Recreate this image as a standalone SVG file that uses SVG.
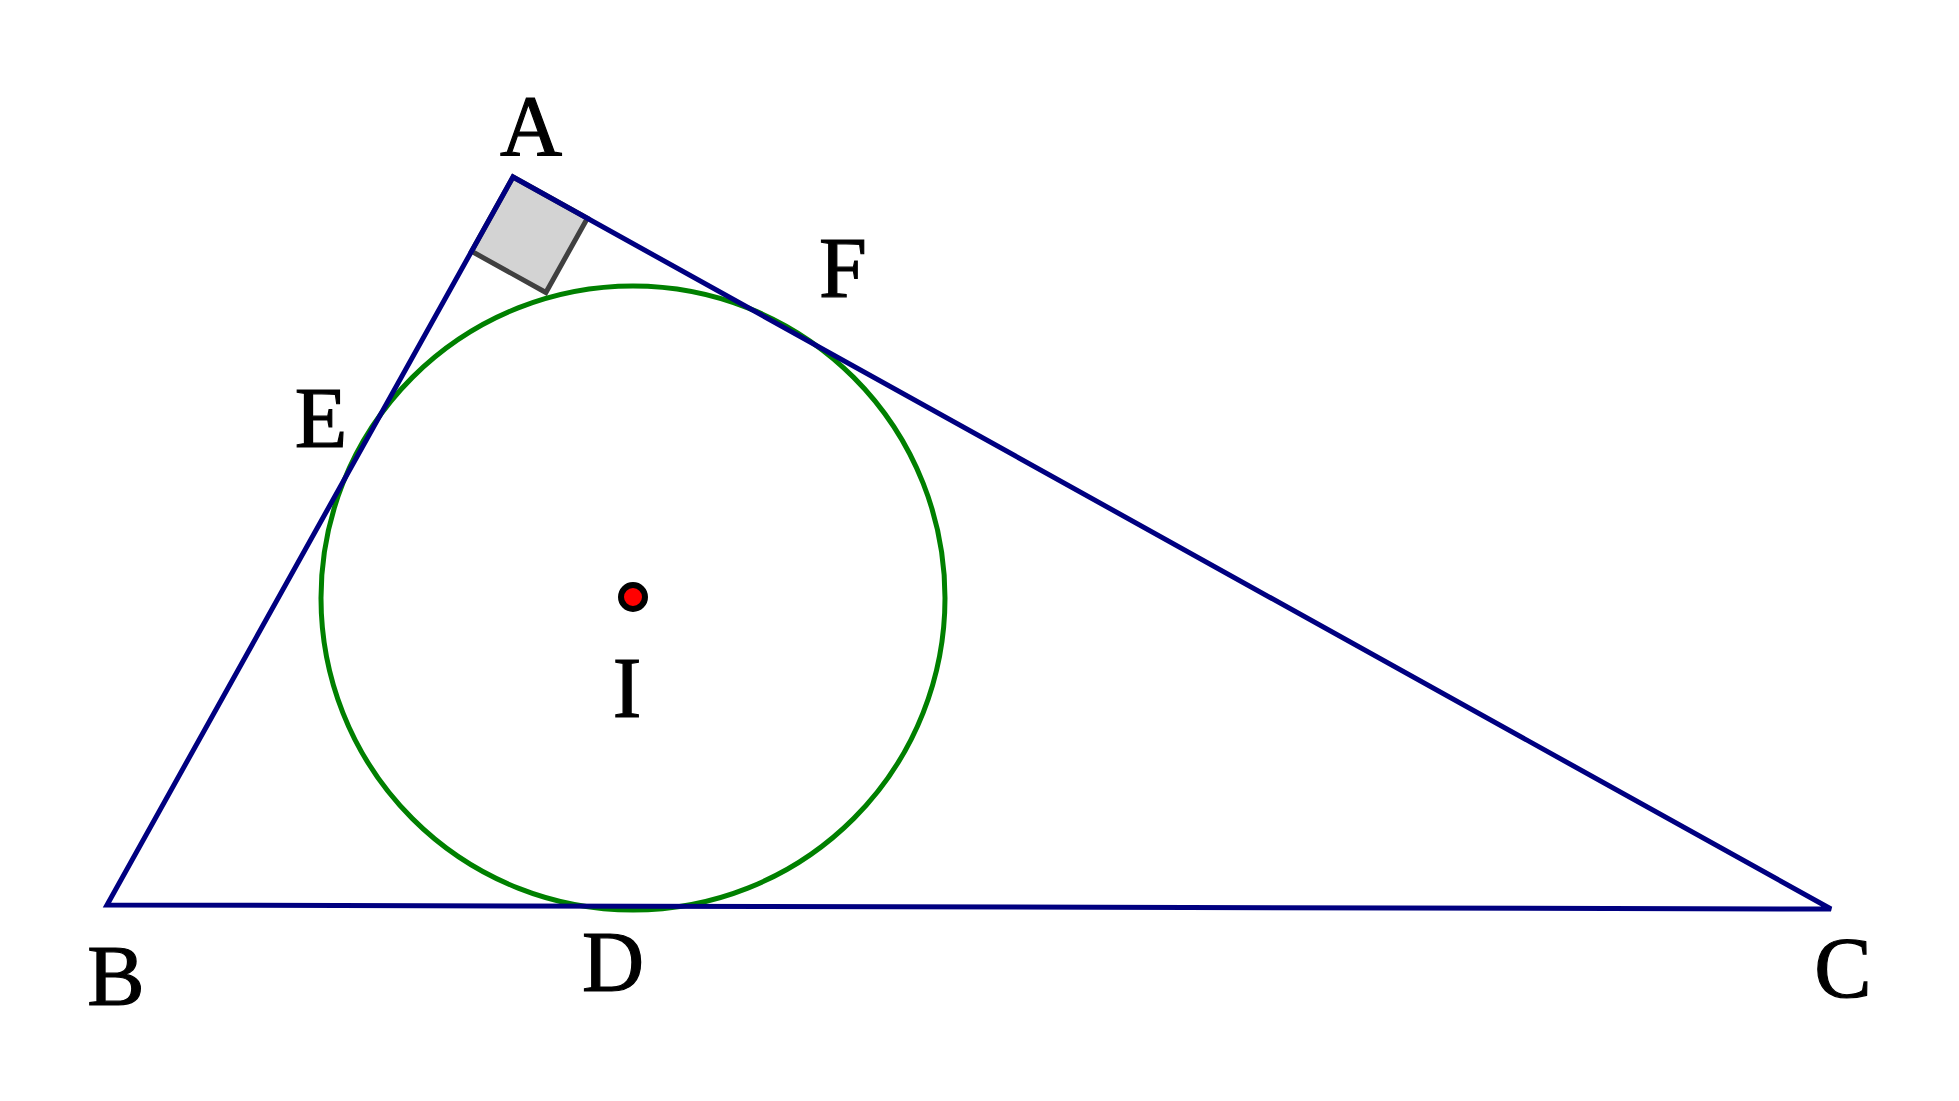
<svg xmlns="http://www.w3.org/2000/svg" width="1959" height="1101" viewBox="0 0 1959 1101">
<style>
.lbl{font-family:"Liberation Serif","Times New Roman",serif;font-size:86px;fill:#000;stroke:#000;stroke-width:1.2;text-anchor:middle}
.side{fill:none;stroke:#000080;stroke-width:5;stroke-linejoin:miter;stroke-miterlimit:2}
.circ{fill:none;stroke:#008000;stroke-width:5}
.ra{fill:#d3d3d3;stroke:#404040;stroke-width:5}
</style>
<rect width="1959" height="1101" fill="#fff"/>
<g id="right-angle">
<polygon points="513,177 471.6,251.3 545.9,292.5 587.4,218.2" class="ra"/>
</g>
<g id="incircle">
<circle cx="633" cy="598" r="312" class="circ"/>
</g>
<g id="connectors">
<polygon points="513,177 107,905 1831,909" class="side"/>
</g>
<g id="node-I">
<circle cx="633" cy="597" r="12" fill="#ff0000" stroke="#000" stroke-width="6"/>
<text x="627" y="717" class="lbl">I</text>
</g>
<g id="node-A"><text x="531" y="155" class="lbl">A</text></g>
<g id="node-B"><text x="116" y="1005" class="lbl">B</text></g>
<g id="node-C"><text x="1843" y="997" class="lbl">C</text></g>
<g id="node-D"><text x="613" y="991" class="lbl">D</text></g>
<g id="node-E"><text x="321" y="447" class="lbl">E</text></g>
<g id="node-F"><text x="843" y="297" class="lbl">F</text></g>
</svg>
